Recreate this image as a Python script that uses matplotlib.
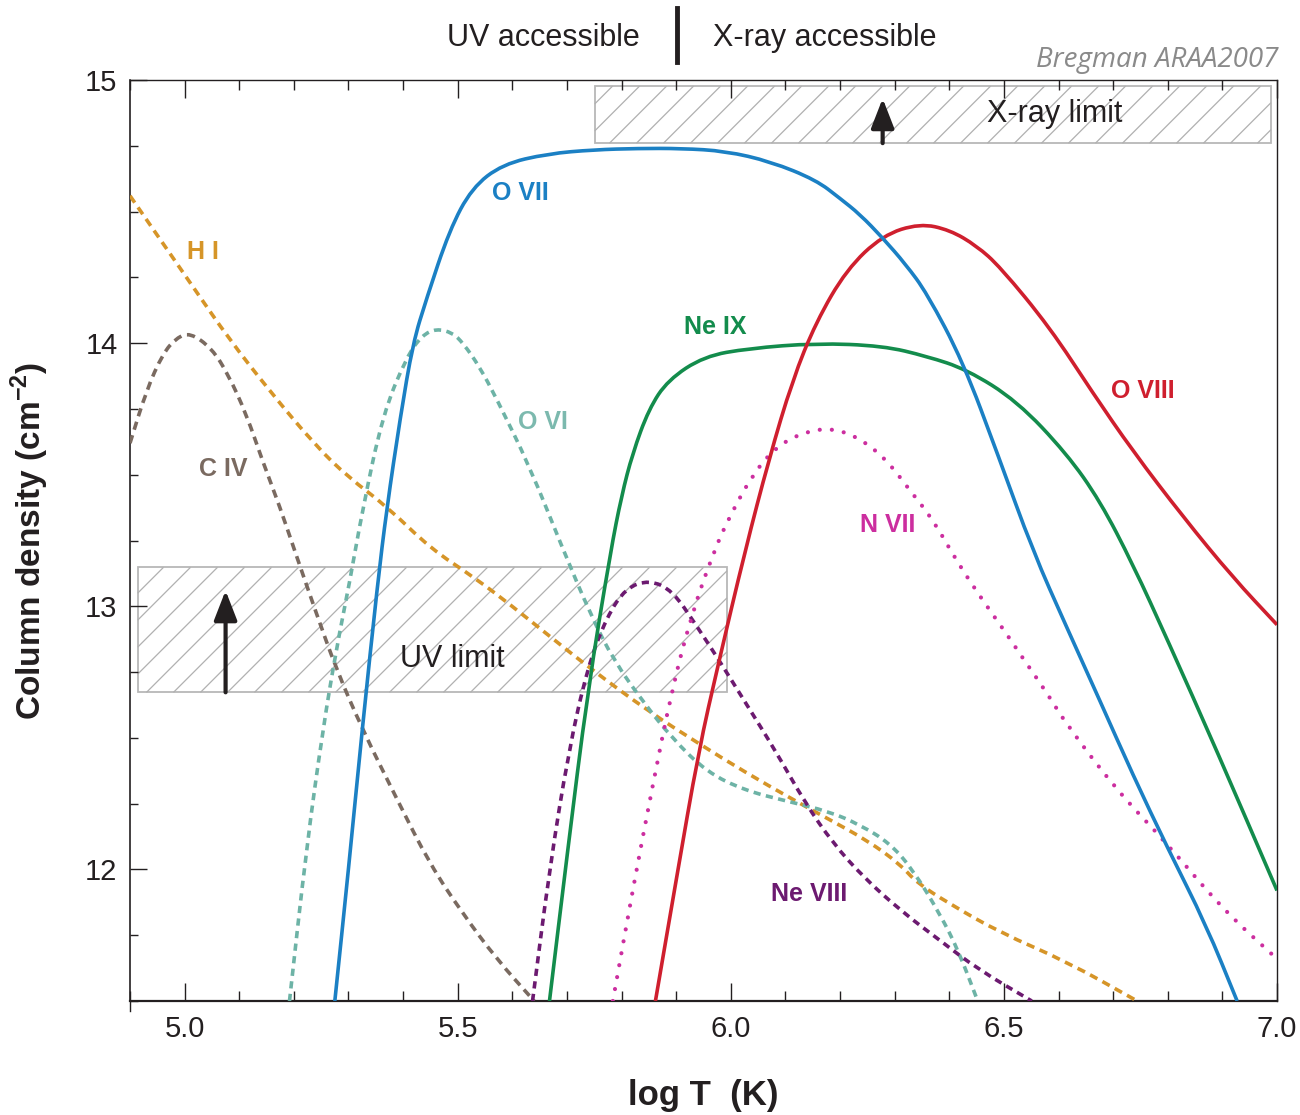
import numpy as np
import matplotlib
matplotlib.use("Agg")
import matplotlib.pyplot as plt
from matplotlib.ticker import MultipleLocator, FormatStrFormatter
from matplotlib.collections import LineCollection
from matplotlib.patches import Rectangle, PathPatch
from matplotlib.path import Path

plt.rcParams['font.family'] = ['Liberation Sans', 'DejaVu Sans']
plt.rcParams['mathtext.fontset'] = 'custom'
plt.rcParams['mathtext.rm'] = 'Liberation Sans'
plt.rcParams['mathtext.bf'] = 'Liberation Sans:bold'

# ---------------- data ----------------
ovii_x = [5.275, 5.30, 5.326, 5.353, 5.37, 5.395, 5.418, 5.443, 5.485, 5.526, 5.582, 5.665, 5.75, 5.83,
          5.91, 5.99, 6.073, 6.156, 6.20, 6.236, 6.278, 6.32, 6.359, 6.425, 6.49, 6.553, 6.615, 6.676,
          6.736, 6.80, 6.87, 6.927]
ovii_y = [11.5, 12.0, 12.55, 13.08, 13.37, 13.72, 14.0, 14.17, 14.43, 14.59, 14.68, 14.72, 14.735, 14.74,
          14.74, 14.73, 14.69, 14.62, 14.55, 14.49, 14.40, 14.30, 14.19, 13.93, 13.57, 13.21, 12.92, 12.64,
          12.36, 12.08, 11.79, 11.5]

oviii_x = [5.862, 5.90, 5.941, 5.977, 6.026, 6.07, 6.113, 6.156, 6.212, 6.278, 6.346, 6.401, 6.45, 6.493,
           6.584, 6.663, 6.736, 6.828, 6.919, 7.0]
oviii_y = [11.5, 11.96, 12.45, 12.78, 13.21, 13.56, 13.86, 14.08, 14.28, 14.41, 14.455, 14.43, 14.37, 14.29,
           14.06, 13.81, 13.59, 13.34, 13.11, 12.93]

neix_x = [5.668, 5.70, 5.738, 5.78, 5.80, 5.82, 5.85, 5.885, 5.951, 6.033, 6.156, 6.278, 6.359, 6.432,
          6.524, 6.615, 6.676, 6.736, 6.80, 6.89, 7.0]
neix_y = [11.5, 12.05, 12.68, 13.21, 13.42, 13.58, 13.75, 13.86, 13.95, 13.98, 14.0, 13.99, 13.95, 13.90,
          13.78, 13.58, 13.40, 13.16, 12.87, 12.45, 11.92]

nvii_x = [5.784, 5.822, 5.857, 5.892, 5.927, 5.969, 6.00, 6.04, 6.08, 6.126, 6.181, 6.236, 6.286, 6.328,
          6.37, 6.414, 6.462, 6.505, 6.529, 6.579, 6.615, 6.707, 6.798, 6.90, 7.0]
nvii_y = [11.5, 11.94, 12.32, 12.68, 12.96, 13.21, 13.35, 13.50, 13.60, 13.656, 13.68, 13.64, 13.555, 13.44,
          13.33, 13.17, 13.02, 12.895, 12.82, 12.67, 12.55, 12.30, 12.10, 11.85, 11.66]

neviii_x = [5.637, 5.668, 5.703, 5.738, 5.773, 5.808, 5.851, 5.893, 5.936, 5.98, 6.025, 6.082, 6.137,
            6.187, 6.243, 6.313, 6.383, 6.453, 6.551]
neviii_y = [11.5, 12.0, 12.45, 12.77, 12.96, 13.07, 13.10, 13.06, 12.93, 12.79, 12.64, 12.45, 12.25,
            12.10, 11.97, 11.84, 11.73, 11.62, 11.5]

ovi_x = [5.192, 5.223, 5.253, 5.278, 5.302, 5.326, 5.363, 5.407, 5.435, 5.461, 5.49, 5.51, 5.54, 5.571,
         5.632, 5.69, 5.745, 5.787, 5.842, 5.892, 5.956, 6.026, 6.102, 6.18, 6.236, 6.291, 6.333, 6.383,
         6.417, 6.452]
ovi_y = [11.5, 12.08, 12.53, 12.84, 13.09, 13.37, 13.73, 13.95, 14.03, 14.055, 14.04, 14.0, 13.91, 13.79,
         13.53, 13.23, 12.96, 12.79, 12.63, 12.50, 12.37, 12.30, 12.26, 12.22, 12.17, 12.10, 12.0, 11.83,
         11.69, 11.5]

hi_x = [4.90, 4.96, 5.02, 5.08, 5.155, 5.24, 5.30, 5.37, 5.45, 5.53, 5.60, 5.66, 5.745, 5.85, 5.94, 6.026,
        6.11, 6.18, 6.25, 6.31, 6.34, 6.40, 6.493, 6.615, 6.744]
hi_y = [14.56, 14.38, 14.20, 14.02, 13.82, 13.61, 13.49, 13.38, 13.22, 13.11, 13.00, 12.90, 12.76, 12.60,
        12.48, 12.37, 12.27, 12.19, 12.11, 12.02, 11.95, 11.87, 11.76, 11.65, 11.5]

civ_x = [4.90, 4.93, 4.96, 4.985, 5.01, 5.05, 5.08, 5.113, 5.143, 5.174, 5.205, 5.24, 5.278, 5.326, 5.388,
         5.449, 5.51, 5.571, 5.64]
civ_y = [13.62, 13.82, 13.96, 14.02, 14.04, 13.98, 13.88, 13.73, 13.55, 13.38, 13.19, 12.98, 12.76, 12.53,
         12.27, 12.02, 11.83, 11.66, 11.5]

ion_names = ["H I", "C IV", "O VII", "O VI", "Ne IX", "O VIII", "N VII", "Ne VIII"]
label_x = [5.033, 5.07, 5.614, 5.656, 5.971, 6.755, 6.288, 6.143]
label_y = [14.345, 13.52, 14.57, 13.70, 14.06, 13.82, 13.31, 11.905]

# limit boxes: (x0, x1, y0, y1)
uv_box = (4.914, 5.993, 12.673, 13.148)
xray_box = (5.751, 6.989, 14.76, 14.977)
uv_arrow_x, uv_arrow_y = 5.075, (12.673, 13.06)
xray_arrow_x, xray_arrow_y = 6.278, (14.76, 14.93)

xticks = [5.0, 5.5, 6.0, 6.5, 7.0]
yticks = [12, 13, 14, 15]

# ---------------- styles ----------------
c_ovii = '#1b80c4'
c_oviii = '#cf1f2e'
c_neix = '#138c4c'
c_nvii = '#cc2e9f'
c_neviii = '#6c1a70'
c_ovi = '#6db3a6'
c_hi = '#d69528'
c_civ = '#7a6a60'

fig = plt.figure(figsize=(13, 11.15), dpi=100)
ax = fig.add_axes([0.1, 0.10224, 0.88231, 0.8260])
ax.set_xlim(4.9, 7.0)
ax.set_ylim(11.5, 15.0)


def hatch_box(box, spacing=27):
    x0, x1, y0, y1 = box
    rect = Rectangle((x0, y0), x1 - x0, y1 - y0, facecolor='white', edgecolor='#b8b8b8',
                     lw=1.3, zorder=1)
    ax.add_patch(rect)
    t = ax.transData
    (px0, py0), (px1, py1) = t.transform([(x0, y0), (x1, y1)])
    inv = t.inverted()
    segs = []
    c = (py0 - px1) + spacing / 2
    while c < (py1 - px0):
        xa = max(px0, py0 - c)
        xb = min(px1, py1 - c)
        if xb > xa:
            segs.append(inv.transform([(xa, xa + c), (xb, xb + c)]))
        c += spacing
    lc = LineCollection(segs, colors='#b0b0b0', linewidths=0.9, zorder=1.1)
    ax.add_collection(lc)


hatch_box(uv_box)
hatch_box(xray_box)


def smooth_curve(xs, ys, color, lw, ls='-', cap='butt', z=3):
    pts = np.column_stack([xs, ys])
    verts = [pts[0]]
    codes = [Path.MOVETO]
    n = len(pts)
    if n > 2:
        verts.append((pts[0] + pts[1]) / 2)
        codes.append(Path.LINETO)
        for i in range(1, n - 1):
            verts.append(pts[i])
            verts.append((pts[i] + pts[i + 1]) / 2)
            codes += [Path.CURVE3, Path.CURVE3]
    verts.append(pts[-1])
    codes.append(Path.LINETO)
    patch = PathPatch(Path(verts, codes), fill=False, edgecolor=color, lw=lw, linestyle=ls,
                      capstyle=cap, joinstyle='round', zorder=z)
    ax.add_patch(patch)


arrowprops = dict(arrowstyle='-|>,head_length=0.9,head_width=0.35', lw=3.0, color='#231f20',
                  mutation_scale=20, shrinkA=0, shrinkB=0)
ax.annotate('', xy=(uv_arrow_x, uv_arrow_y[1]), xytext=(uv_arrow_x, uv_arrow_y[0]),
            arrowprops=arrowprops, zorder=2)
ax.annotate('', xy=(xray_arrow_x, xray_arrow_y[1]), xytext=(xray_arrow_x, xray_arrow_y[0]),
            arrowprops=arrowprops, zorder=2)

ax.text(5.491, 12.80, 'UV limit', fontsize=22, color='#231f20', ha='center', va='center', zorder=2)
ax.text(6.593, 14.87, 'X-ray limit', fontsize=22, color='#231f20', ha='center', va='center', zorder=2)

dash = (0, (2.3, 1.6))
lw_d = 2.6
smooth_curve(hi_x, hi_y, c_hi, lw_d, dash)
smooth_curve(civ_x, civ_y, c_civ, lw_d, dash)
smooth_curve(ovi_x, ovi_y, c_ovi, lw_d, (0, (2.0, 1.5)))
smooth_curve(neviii_x, neviii_y, c_neviii, lw_d, (0, (2.0, 1.5)))
smooth_curve(nvii_x, nvii_y, c_nvii, 3.0, (0, (0.01, 2.9)), cap='round')
smooth_curve(neix_x, neix_y, c_neix, 2.6, z=4)
smooth_curve(oviii_x, oviii_y, c_oviii, 2.6, z=4)
smooth_curve(ovii_x, ovii_y, c_ovii, 2.6, z=4)

label_colors = [c_hi, c_civ, c_ovii, '#7cb9ae', c_neix, c_oviii, c_nvii, c_neviii]
for name, lx, ly, lc_ in zip(ion_names, label_x, label_y, label_colors):
    ax.text(lx, ly, name, fontsize=18, fontweight='bold', color=lc_, ha='center', va='center', zorder=5)

# ---------------- axes ----------------
ax.set_xticks(xticks)
ax.xaxis.set_minor_locator(MultipleLocator(0.1))
ax.xaxis.set_major_formatter(FormatStrFormatter('%.1f'))
ax.set_yticks(yticks)
ax.yaxis.set_minor_locator(MultipleLocator(0.25))
ax.tick_params(axis='x', which='both', direction='in', top=True, bottom=True, colors='#231f20',
               labelsize=21, pad=10)
ax.tick_params(axis='x', which='major', length=13, width=1.0)
ax.tick_params(axis='x', which='minor', length=7, width=1.0)
ax.tick_params(axis='y', which='both', direction='in', left=True, right=False, colors='#231f20',
               labelsize=21, pad=9)
ax.tick_params(axis='y', which='major', length=12, width=1.0)
ax.tick_params(axis='y', which='minor', length=6, width=1.0)

ax.spines['bottom'].set_linewidth(1.6)
ax.spines['left'].set_linewidth(1.2)
ax.spines['top'].set_linewidth(1.0)
ax.spines['right'].set_linewidth(1.0)
for s in ax.spines.values():
    s.set_color('#231f20')
ax.plot([0, 0], [0, -0.011], transform=ax.transAxes, clip_on=False, color='#231f20', lw=1.0)

ax.set_xlabel('log T  (K)', fontsize=25, fontweight='bold', color='#231f20')
ax.set_ylabel(r'Column density (cm$^{\mathbf{-2}}$)', fontsize=24, fontweight='bold', color='#231f20')
ax.xaxis.label.set_va('center')
ax.yaxis.label.set_va('center')
ax.xaxis.set_label_coords(0.5, -(1095 - 1001) / 921)
ax.yaxis.set_label_coords(-(130 - 30) / 1147, 0.5)

# top annotations
fig.text(543 / 1300, 1 - 38 / 1115, 'UV accessible', fontsize=22, color='#231f20', ha='center', va='center')
fig.text(825 / 1300, 1 - 38 / 1115, 'X-ray accessible', fontsize=22, color='#231f20', ha='center', va='center')
fig.add_artist(plt.Line2D([677 / 1300, 677 / 1300], [1 - 8 / 1115, 1 - 62 / 1115], color='#231f20', lw=3.5))
fig.text(1278 / 1300, 1 - 60 / 1115, 'Bregman ARAA2007', fontsize=20, color='#8a8a8a', style='italic',
         family=['Open Sans', 'DejaVu Sans'], ha='right', va='center')

fig.savefig('out.png', dpi=100)
